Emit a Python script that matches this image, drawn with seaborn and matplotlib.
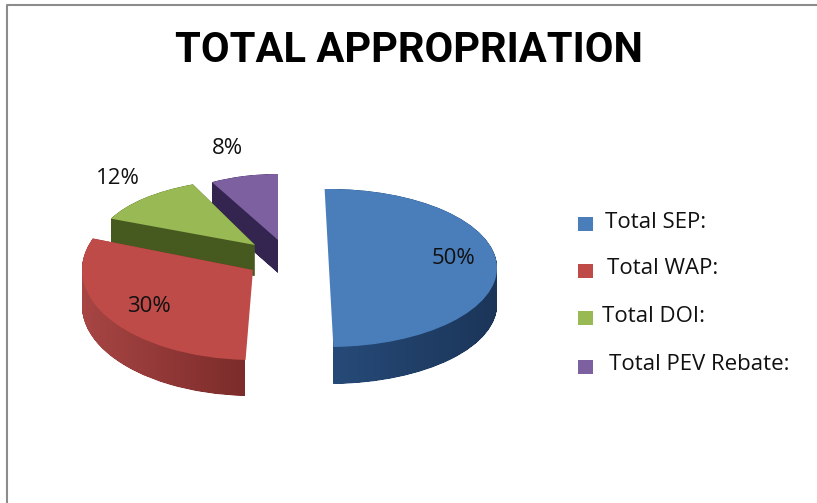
import numpy as np
import matplotlib
matplotlib.use("Agg")
import matplotlib.pyplot as plt
from matplotlib.colors import LinearSegmentedColormap
from matplotlib.patches import PathPatch, Rectangle
from matplotlib.path import Path
from matplotlib.transforms import Affine2D
import seaborn as sns

# --- data ---
categories = ["Total SEP:", "Total WAP:", "Total DOI:", "Total PEV Rebate:"]
shares = [50, 30, 12, 8]
face_colors = ["#4A7EBB", "#BE4B48", "#98B954", "#7D60A0"]
wall_left = ["#264A78", "#A84644", "#46591F", "#33254F"]
wall_right = ["#1B3558", "#7C2C2B", "#46591F", "#33254F"]

# --- layout in reference pixels ---
# apex x, apex y, radius x, radius y, rotation, depth
wedge_layout = [
    (329, 268, 168, 79, 0, 37),
    (253, 270, 171, 90, -4, 36),
    (255, 245, 157, 66, -7, 31),
    (278, 240, 137, 66, -1.5, 33),
]
# x range of each side wall, keeps walls off the flat cut edges
wall_x = [(333, 500), (78, 245), (100, 258), (205, 278)]
draw_rank = [3, 2, 1, 0]
pct_pos = [(454, 258), (149, 306), (118, 179), (227, 149)]
legend_y = [224, 271, 318, 367]
legend_text_x = [605, 607, 602, 609]
legend_text_y = [222, 269, 317, 365]

sns.set_theme(style="white")
plt.rcParams["font.family"] = ["Open Sans", "DejaVu Sans"]

fig, ax = plt.subplots(figsize=(8.17, 5.03), dpi=100)
fig.subplots_adjust(0, 0, 1, 1)

wedges, _ = ax.pie(shares, colors=face_colors, startangle=91.5, counterclock=False, frame=True)
for i, (w, lay, rank) in enumerate(zip(wedges, wedge_layout, draw_rank)):
    x, y, rx, ry, rot, depth = lay
    base = Affine2D().rotate_deg(rot).scale(rx, -ry)
    w.set_transform(base + Affine2D().translate(x, y) + ax.transData)
    w.set_linewidth(0)
    w.set_zorder(rank * 10 + 5)

    # side wall: the wedge shape swept downwards, filled with a left-right shade
    unit = w.get_path()
    swept = [unit.transformed(base + Affine2D().translate(x, y + d)) for d in np.arange(0, depth + 0.5, 0.5)]
    clip = PathPatch(Path.make_compound_path(*swept), transform=ax.transData)
    cmap = LinearSegmentedColormap.from_list(f"wall{i}", [wall_left[i], wall_right[i]])
    im = ax.imshow(np.linspace(0, 1, 64).reshape(1, -1), cmap=cmap, aspect="auto",
                   extent=(wall_x[i][0], wall_x[i][1], y + depth + ry + 5, y - ry - 5),
                   zorder=rank * 10 + 1)
    im.set_clip_path(clip)

ax.set_aspect("auto")
ax.set_xlim(0, 817)
ax.set_ylim(503, 0)
ax.axis("off")

# chart frame
ax.plot([7, 7, 817], [503, 5, 5], color="#8C8C8C", lw=1.5, zorder=1)

ax.text(409, 50, "TOTAL APPROPRIATION", ha="center", va="center", fontsize=30,
        fontweight="bold", color="black", family=["Roboto", "Lato"], zorder=90)

for v, (px, py) in zip(shares, pct_pos):
    ax.text(px, py, f"{v}%", ha="center", va="center", fontsize=16, color="#111111", zorder=90)

for name, col, ly, tx, ty in zip(categories, face_colors, legend_y, legend_text_x, legend_text_y):
    ax.add_patch(Rectangle((578, ly - 7), 15, 14, facecolor=col, edgecolor="none", zorder=90))
    ax.text(tx, ty, name, ha="left", va="center", fontsize=16, color="#111111", zorder=90)

fig.savefig("out.png", dpi=100)
